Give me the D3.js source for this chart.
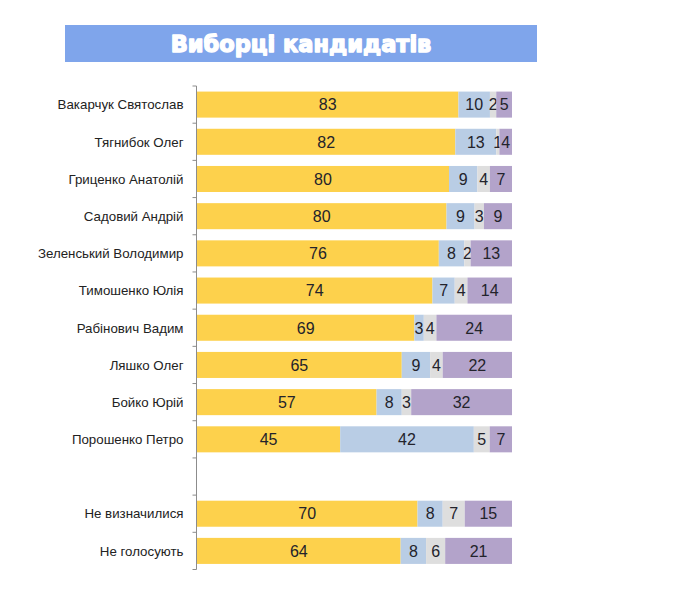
<!DOCTYPE html>
<html><head><meta charset="utf-8">
<script src="https://cdn.jsdelivr.net/npm/d3@7/dist/d3.min.js"></script>
<style>
body{margin:0;background:#fff;}
svg{display:block;}
</style></head>
<body>
<svg id="chart" width="681" height="607"></svg>
<script>
const title = "Виборці кандидатів";
const categories = ["Вакарчук Святослав","Тягнибок Олег","Гриценко Анатолій","Садовий Андрій","Зеленський Володимир","Тимошенко Юлія","Рабінович Вадим","Ляшко Олег","Бойко Юрій","Порошенко Петро","","Не визначилися","Не голосують"];
const seriesKeys = ["s1","s2","s3","s4"];
const s1 = [83,82,80,80,76,74,69,65,57,45,0,70,64];
const s2 = [10,13,9,9,8,7,3,9,8,42,0,8,8];
const s3 = [2,1,4,3,2,4,4,4,3,5,0,7,6];
const s4 = [5,4,7,9,13,14,24,22,32,7,0,15,21];
const colors = ["#FDD14C","#B9CDE5","#DEDEDE","#B3A3CA"];

const rows = categories.map((c,i)=>({cat:c, key:"k"+i, s1:s1[i], s2:s2[i], s3:s3[i], s4:s4[i]}));
const svg = d3.select("#chart");

// title banner
svg.append("rect").attr("x",65).attr("y",25).attr("width",472).attr("height",37).attr("fill","#7FA5EB");
svg.append("text").attr("x",301).attr("y",51.5).attr("text-anchor","middle")
  .attr("font-family","'DejaVu Sans', Lato, sans-serif").attr("font-weight","bold")
  .attr("font-size",22.5).attr("fill","#fff").attr("stroke","#fff").attr("stroke-width",1.4)
  .attr("stroke-linejoin","round")
  .text(title);

const x = d3.scaleLinear().domain([0,1]).range([197,512]);
const y = d3.scaleBand().domain(rows.map(r=>r.key)).range([86,569.5]).paddingInner(0.3).paddingOuter(0.15);

const stack = d3.stack().keys(seriesKeys).offset(d3.stackOffsetExpand);
const active = rows.filter(r=>r.cat!=="");
const stacked = stack(active);

const g = svg.append("g");
stacked.forEach((layer,li)=>{
  const lg = g.append("g").attr("fill",colors[li]);
  lg.selectAll("rect").data(layer).join("rect")
    .attr("x",d=>x(d[0])).attr("width",d=>x(d[1])-x(d[0]))
    .attr("y",d=>y(d.data.key)).attr("height",y.bandwidth());
  g.append("g").selectAll("text").data(layer.filter(d=>d.data[layer.key]>0)).join("text")
    .attr("x",d=>(x(d[0])+x(d[1]))/2).attr("y",d=>y(d.data.key)+y.bandwidth()/2)
    .attr("dy","0.36em").attr("text-anchor","middle")
    .attr("font-family","'Liberation Sans', Arial, sans-serif").attr("font-size",16)
    .attr("fill","#23232b").text(d=>d.data[layer.key]);
});

// axis
const ax = svg.append("g").attr("stroke","#8c8c8c").attr("stroke-width",1);
const r0 = y.range()[0], r1 = y.range()[1];
ax.append("line").attr("x1",196.5).attr("x2",196.5).attr("y1",r0).attr("y2",r1);
ax.selectAll("line.t").data(d3.range(categories.length+1)).join("line").attr("class","t")
  .attr("x1",192.5).attr("x2",196.5)
  .attr("y1",i=>r0+i*y.step()).attr("y2",i=>r0+i*y.step());

svg.append("g").selectAll("text").data(rows.filter(r=>r.cat!=="")).join("text")
  .attr("x",183.5).attr("y",d=>y(d.key)+y.bandwidth()/2).attr("dy","0.36em")
  .attr("text-anchor","end").attr("font-family","'Liberation Sans', Arial, sans-serif")
  .attr("font-size",13.3).attr("fill","#222").text(d=>d.cat);
</script>
</body></html>
